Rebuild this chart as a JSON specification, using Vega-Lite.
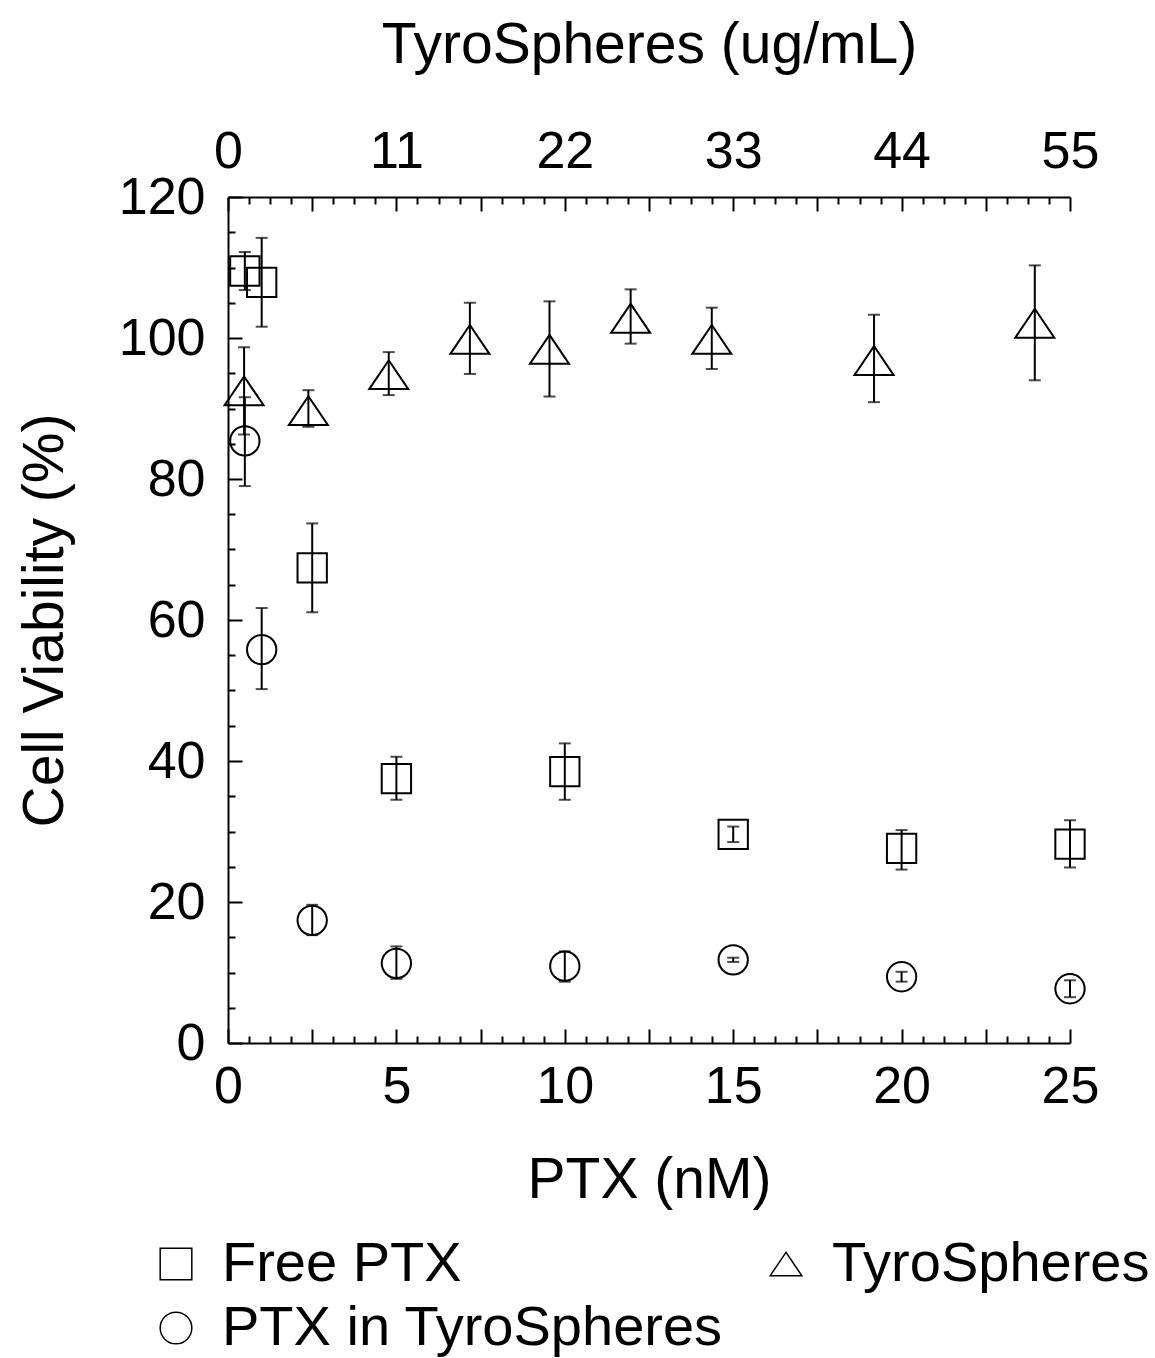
{
  "$schema": "https://vega.github.io/schema/vega-lite/v6.json",
  "autosize": {"type": "none"},
  "padding": {"left": 228, "top": 197, "right": 85, "bottom": 315},
  "width": 842,
  "height": 846,
  "background": "white",
  "config": {
    "view": {"stroke": null},
    "font": "Liberation Sans",
    "axis": {
      "grid": false,
      "domainColor": "black",
      "domainWidth": 2,
      "tickColor": "black",
      "tickWidth": 2,
      "labelFont": "Liberation Sans",
      "labelFontSize": 52,
      "labelColor": "black",
      "titleFont": "Liberation Sans",
      "titleFontSize": 57,
      "titleFontWeight": "normal",
      "titleColor": "black",
      "labelOverlap": false,
      "labelFlush": false
    },
    "axisY": {
      "orient": "left",
      "title": "Cell Viability (%)",
      "values": [0,5,10,15,20,25,30,35,40,45,50,55,60,65,70,75,80,85,90,95,100,105,110,115,120],
      "labelExpr": "datum.value % 20 === 0 ? '' + datum.value : ''",
      "tickSize": {"condition": {"test": "datum.value % 20 === 0", "value": -14}, "value": -7},
      "labelPadding": 37,
      "titleX": -183, "titleY": 423, "titleAngle": -90, "titleAlign": "center", "titleBaseline": "middle"
    }
  },
  "datasets": {
    "pts": [
      {"series": "Free PTX", "nM": 0.5, "ug": null, "v": 109.5, "lo": 106.8, "hi": 112.2},
      {"series": "Free PTX", "nM": 1, "ug": null, "v": 107.9, "lo": 101.6, "hi": 114.2},
      {"series": "Free PTX", "nM": 2.5, "ug": null, "v": 67.4, "lo": 61.1, "hi": 73.7},
      {"series": "Free PTX", "nM": 5, "ug": null, "v": 37.5, "lo": 34.5, "hi": 40.6},
      {"series": "Free PTX", "nM": 10, "ug": null, "v": 38.5, "lo": 34.5, "hi": 42.5},
      {"series": "Free PTX", "nM": 15, "ug": null, "v": 29.6, "lo": 28.5, "hi": 30.7},
      {"series": "Free PTX", "nM": 20, "ug": null, "v": 27.6, "lo": 24.6, "hi": 30.2},
      {"series": "Free PTX", "nM": 25, "ug": null, "v": 28.2, "lo": 24.9, "hi": 31.6},
      {"series": "PTX in TyroSpheres", "nM": 0.5, "ug": null, "v": 85.4, "lo": 79.0, "hi": 91.6},
      {"series": "PTX in TyroSpheres", "nM": 1, "ug": null, "v": 55.8, "lo": 50.2, "hi": 61.7},
      {"series": "PTX in TyroSpheres", "nM": 2.5, "ug": null, "v": 17.4, "lo": 15.3, "hi": 19.6},
      {"series": "PTX in TyroSpheres", "nM": 5, "ug": null, "v": 11.3, "lo": 9.1, "hi": 13.7},
      {"series": "PTX in TyroSpheres", "nM": 10, "ug": null, "v": 10.9, "lo": 8.7, "hi": 13.0},
      {"series": "PTX in TyroSpheres", "nM": 15, "ug": null, "v": 11.8, "lo": 11.5, "hi": 12.1},
      {"series": "PTX in TyroSpheres", "nM": 20, "ug": null, "v": 9.4, "lo": 8.7, "hi": 10.1},
      {"series": "PTX in TyroSpheres", "nM": 25, "ug": null, "v": 7.7, "lo": 6.5, "hi": 8.9},
      {"series": "TyroSpheres", "nM": null, "ug": 1.05, "v": 92.5, "lo": 86.3, "hi": 98.7},
      {"series": "TyroSpheres", "nM": null, "ug": 5.25, "v": 89.7, "lo": 87.4, "hi": 92.6},
      {"series": "TyroSpheres", "nM": null, "ug": 10.5, "v": 94.8, "lo": 91.9, "hi": 98.0},
      {"series": "TyroSpheres", "nM": null, "ug": 15.8, "v": 99.8, "lo": 94.9, "hi": 105.0},
      {"series": "TyroSpheres", "nM": null, "ug": 21.0, "v": 98.4, "lo": 91.7, "hi": 105.2},
      {"series": "TyroSpheres", "nM": null, "ug": 26.3, "v": 102.8, "lo": 99.2, "hi": 106.9},
      {"series": "TyroSpheres", "nM": null, "ug": 31.6, "v": 99.8, "lo": 95.6, "hi": 104.3},
      {"series": "TyroSpheres", "nM": null, "ug": 42.2, "v": 96.8, "lo": 90.9, "hi": 103.3},
      {"series": "TyroSpheres", "nM": null, "ug": 52.7, "v": 102.1, "lo": 94.0, "hi": 110.3}
    ]
  },
  "data": {"name": "pts"},
  "resolve": {"scale": {"x": "independent"}, "axis": {"x": "independent"}},
  "layer": [
    {
      "transform": [{"filter": "datum.series !== 'TyroSpheres'"}],
      "encoding": {
        "x": {
          "field": "nM", "type": "quantitative",
          "scale": {"domain": [0, 25], "nice": false, "zero": false},
          "axis": {
            "orient": "bottom",
            "title": "PTX (nM)",
            "values": [0,0.625,1.25,1.875,2.5,3.125,3.75,4.375,5,5.625,6.25,6.875,7.5,8.125,8.75,9.375,10,10.625,11.25,11.875,12.5,13.125,13.75,14.375,15,15.625,16.25,16.875,17.5,18.125,18.75,19.375,20,20.625,21.25,21.875,22.5,23.125,23.75,24.375,25],
            "labelExpr": "datum.value % 5 === 0 ? '' + datum.value : ''",
            "tickSize": {"condition": {"test": "datum.value % 2.5 === 0", "value": -14}, "value": -7},
            "labelPadding": 32,
            "titleX": 421, "titleY": 137, "titleBaseline": "middle"
          }
        }
      },
      "layer": [
        {
          "mark": {"type": "rule", "color": "black", "strokeWidth": 2},
          "encoding": {
            "y": {"field": "lo", "type": "quantitative", "scale": {"domain": [0, 120], "nice": false}, "title": "Cell Viability (%)"},
            "y2": {"field": "hi"}
          }
        },
        {
          "mark": {"type": "tick", "orient": "horizontal", "color": "black", "thickness": 2, "size": 12},
          "encoding": {"y": {"field": "lo", "type": "quantitative", "title": "Cell Viability (%)"}}
        },
        {
          "mark": {"type": "tick", "orient": "horizontal", "color": "black", "thickness": 2, "size": 12},
          "encoding": {"y": {"field": "hi", "type": "quantitative", "title": "Cell Viability (%)"}}
        },
        {
          "mark": {"type": "point", "filled": false, "color": "black", "strokeWidth": 2, "size": 860, "opacity": 1},
          "encoding": {
            "y": {"field": "v", "type": "quantitative", "title": "Cell Viability (%)"},
            "shape": {
              "field": "series", "type": "nominal",
              "scale": {"domain": ["Free PTX", "PTX in TyroSpheres", "TyroSpheres"], "range": ["square", "circle", "M0,-0.74L-1,0.74L1,0.74Z"]},
              "legend": {
                "title": null, "orient": "none", "legendX": -80, "legendY": 1039,
                "columns": 2, "columnPadding": 34, "rowPadding": 8,
                "labelFont": "Liberation Sans", "labelFontSize": 56, "labelColor": "black", "labelLimit": 1000, "labelOffset": 18,
                "symbolSize": 1000, "symbolStrokeWidth": 1.5, "symbolStrokeColor": "black", "symbolFillColor": "transparent", "symbolType": "square"
              }
            }
          }
        }
      ]
    },
    {
      "transform": [{"filter": "datum.series === 'TyroSpheres'"}],
      "encoding": {
        "x": {
          "field": "ug", "type": "quantitative",
          "scale": {"domain": [0, 55], "nice": false, "zero": false},
          "axis": {
            "orient": "top",
            "title": "TyroSpheres (ug/mL)",
            "values": [0,1.375,2.75,4.125,5.5,6.875,8.25,9.625,11,12.375,13.75,15.125,16.5,17.875,19.25,20.625,22,23.375,24.75,26.125,27.5,28.875,30.25,31.625,33,34.375,35.75,37.125,38.5,39.875,41.25,42.625,44,45.375,46.75,48.125,49.5,50.875,52.25,53.625,55],
            "labelExpr": "datum.value % 11 === 0 ? '' + datum.value : ''",
            "tickSize": {"condition": {"test": "datum.value % 5.5 === 0", "value": -14}, "value": -7},
            "labelPadding": 33,
            "titleX": 421, "titleY": -152, "titleBaseline": "middle"
          }
        }
      },
      "layer": [
        {
          "mark": {"type": "rule", "color": "black", "strokeWidth": 2},
          "encoding": {"y": {"field": "lo", "type": "quantitative", "title": "Cell Viability (%)"}, "y2": {"field": "hi"}}
        },
        {
          "mark": {"type": "tick", "orient": "horizontal", "color": "black", "thickness": 2, "size": 12},
          "encoding": {"y": {"field": "lo", "type": "quantitative", "title": "Cell Viability (%)"}}
        },
        {
          "mark": {"type": "tick", "orient": "horizontal", "color": "black", "thickness": 2, "size": 12},
          "encoding": {"y": {"field": "hi", "type": "quantitative", "title": "Cell Viability (%)"}}
        },
        {
          "mark": {"type": "point", "filled": false, "color": "black", "strokeWidth": 2, "size": 1521, "opacity": 1},
          "encoding": {
            "y": {"field": "v", "type": "quantitative", "title": "Cell Viability (%)"},
            "shape": {"field": "series", "type": "nominal", "scale": {"domain": ["Free PTX", "PTX in TyroSpheres", "TyroSpheres"], "range": ["square", "circle", "M0,-0.74L-1,0.74L1,0.74Z"]}}
          }
        }
      ]
    }
  ]
}
